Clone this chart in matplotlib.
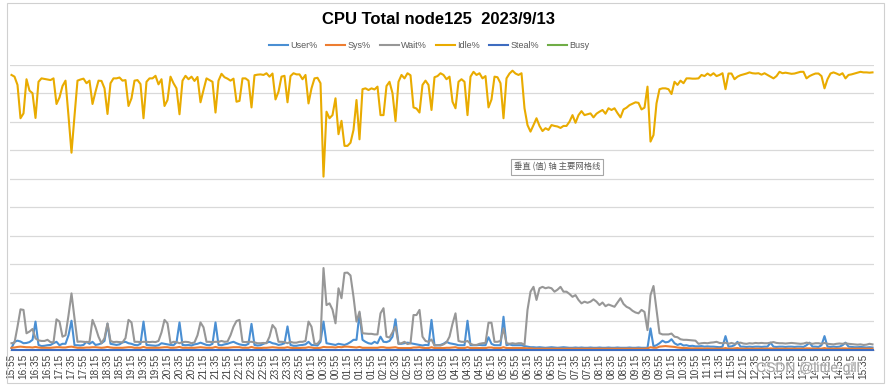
import matplotlib
matplotlib.use('Agg')

import matplotlib.pyplot as plt
from matplotlib.patches import Rectangle
import matplotlib.patheffects as pe
import pandas as pd

# 5-minute nmon samples, 2023/9/13 15:55 -> next day 15:50 (one row of 12 = one hour)
times = pd.date_range('2023-09-12 15:55', periods=288, freq='5min').strftime('%H:%M').tolist()

idle = [
    96.4, 95.8, 92.9, 81.2, 82.9, 94.9, 90.9, 90.0, 81.3, 94.0, 95.2, 95.0,
    94.8, 94.6, 95.2, 86.2, 88.5, 92.5, 94.4, 82.0, 69.1, 82.0, 94.4, 94.8,
    95.1, 93.5, 94.4, 86.2, 90.5, 94.4, 94.3, 91.7, 82.7, 93.5, 95.2, 95.2,
    95.5, 94.4, 94.6, 85.5, 88.2, 94.4, 94.6, 93.2, 81.2, 94.0, 95.2, 95.2,
    96.1, 93.1, 94.9, 85.5, 87.6, 95.8, 93.5, 91.7, 82.6, 94.4, 96.1, 94.9,
    95.8, 94.3, 95.7, 86.8, 91.1, 95.2, 94.6, 94.0, 83.2, 94.4, 96.8, 95.6,
    95.1, 94.4, 95.1, 87.0, 87.3, 95.2, 95.2, 94.4, 85.0, 96.3, 96.5, 96.6,
    96.4, 97.0, 95.8, 96.9, 87.8, 90.5, 95.8, 96.1, 86.8, 96.0, 97.0, 96.6,
    96.6, 94.9, 96.4, 86.4, 91.7, 95.2, 95.4, 93.5, 60.7, 83.5, 81.2, 82.3,
    88.2, 75.6, 80.3, 71.5, 71.5, 72.6, 77.1, 87.6, 73.8, 91.4, 91.7, 91.1,
    91.7, 91.3, 92.3, 82.3, 82.3, 92.5, 94.0, 90.0, 80.2, 94.0, 96.4, 95.2,
    97.0, 96.3, 85.0, 84.6, 83.2, 92.9, 94.4, 92.9, 84.1, 95.6, 96.0, 97.0,
    96.4, 94.9, 95.8, 87.0, 84.7, 94.0, 94.9, 94.0, 82.3, 95.8, 97.5, 96.4,
    97.0, 95.2, 96.0, 85.0, 87.8, 95.8, 95.6, 93.5, 81.2, 95.2, 96.9, 97.9,
    96.9, 96.4, 97.0, 84.7, 78.8, 76.5, 78.8, 81.2, 78.5, 76.7, 77.7, 77.1,
    78.8, 78.5, 78.3, 77.8, 78.5, 78.5, 80.0, 82.3, 79.6, 82.3, 83.7, 82.3,
    82.6, 82.9, 81.5, 82.8, 83.5, 84.1, 82.8, 84.7, 84.1, 84.7, 83.0, 81.5,
    84.3, 84.9, 85.8, 86.3, 86.8, 86.6, 84.3, 84.9, 92.3, 73.0, 75.3, 86.4,
    91.4, 91.7, 91.7, 91.4, 89.7, 94.0, 92.9, 94.4, 93.5, 95.2, 95.2, 95.1,
    95.1, 95.2, 96.4, 96.0, 96.9, 96.2, 97.0, 96.0, 96.4, 97.0, 91.4, 96.9,
    96.9, 94.9, 95.8, 96.3, 96.6, 96.9, 97.3, 97.0, 96.9, 97.0, 96.5, 97.0,
    96.4, 95.8, 95.2, 96.0, 97.5, 97.0, 97.2, 97.0, 96.8, 96.9, 97.2, 97.5,
    97.5, 95.2, 96.0, 96.5, 96.9, 96.9, 96.0, 91.7, 94.9, 96.9, 97.3, 96.9,
    96.4, 97.0, 95.2, 96.4, 96.6, 96.9, 97.2, 97.5, 97.3, 97.3, 97.2, 97.3,
]

wait = [
    2.2, 2.4, 8.0, 14.1, 13.9, 5.7, 6.3, 7.2, 3.9, 3.2, 3.0, 3.0,
    3.4, 2.6, 2.5, 10.6, 9.8, 4.5, 5.0, 12.0, 19.7, 11.0, 2.7, 2.8,
    2.7, 2.6, 2.7, 10.4, 7.8, 4.5, 2.2, 4.0, 9.2, 3.0, 2.6, 2.7,
    2.6, 2.5, 4.0, 10.4, 9.5, 2.7, 2.7, 2.6, 2.7, 2.7, 2.6, 2.7,
    2.6, 3.0, 6.0, 10.4, 9.2, 2.2, 2.7, 2.6, 2.2, 2.6, 2.7, 2.6,
    2.2, 2.5, 5.0, 9.5, 7.8, 2.7, 2.7, 2.6, 2.7, 2.7, 3.0, 2.7,
    2.8, 5.0, 8.0, 10.0, 10.4, 2.7, 2.6, 2.7, 2.7, 2.5, 2.2, 2.2,
    2.3, 2.2, 4.5, 8.6, 7.3, 2.7, 2.7, 2.6, 2.2, 2.7, 2.4, 2.4,
    2.7, 2.7, 3.0, 9.8, 8.0, 2.0, 2.0, 3.4, 28.6, 15.6, 16.2, 14.0,
    9.2, 21.5, 18.0, 26.9, 27.0, 26.0, 18.5, 9.8, 13.3, 5.7, 5.6, 5.5,
    5.5, 5.3, 5.3, 12.7, 14.5, 4.5, 4.2, 6.0, 8.0, 2.0, 2.2, 2.7,
    1.9, 2.2, 12.1, 12.1, 13.9, 4.5, 3.0, 2.7, 3.5, 1.4, 1.5, 1.4,
    1.8, 2.5, 4.5, 9.0, 12.7, 3.0, 2.7, 2.7, 3.0, 2.0, 1.6, 1.6,
    2.0, 2.2, 2.3, 9.4, 9.4, 2.7, 2.7, 3.0, 7.4, 2.2, 2.0, 2.2,
    2.0, 2.2, 2.2, 1.6, 13.9, 20.3, 22.0, 17.4, 21.5, 22.0, 21.5, 21.8,
    21.5, 20.3, 21.0, 22.0, 20.3, 20.3, 19.5, 18.5, 19.1, 17.4, 16.2, 16.8,
    16.4, 16.8, 17.6, 16.8, 15.6, 16.5, 15.2, 15.8, 15.4, 15.0, 16.5, 18.0,
    16.0, 15.0, 14.5, 13.6, 13.0, 12.7, 13.9, 13.2, 6.8, 19.1, 22.3, 13.9,
    5.7, 5.3, 5.3, 5.3, 5.6, 4.5, 4.3, 3.6, 3.4, 3.4, 3.3, 3.2,
    3.1, 2.0, 2.2, 2.3, 2.2, 2.4, 2.5, 2.7, 2.3, 2.2, 2.4, 2.0,
    2.3, 2.0, 2.2, 2.4, 2.1, 2.0, 2.2, 2.1, 2.3, 2.2, 2.3, 2.2,
    2.2, 2.4, 2.6, 2.3, 2.2, 2.2, 2.1, 2.2, 2.3, 2.2, 2.1, 2.0,
    2.1, 2.4, 2.2, 2.0, 2.2, 2.2, 2.0, 2.3, 2.0, 1.9, 1.8, 2.0,
    2.1, 2.0, 2.2, 2.0, 1.9, 1.8, 1.7, 1.8, 1.6, 1.7, 2.0, 1.8,
]

user = [
    0.5, 2.7, 3.1, 2.8, 2.2, 2.3, 2.6, 3.4, 9.8, 1.6, 1.2, 1.3,
    1.5, 1.6, 2.2, 2.7, 1.5, 2.0, 2.0, 5.0, 10.1, 1.5, 1.5, 1.4,
    1.6, 2.7, 2.0, 2.7, 1.6, 1.8, 2.2, 3.0, 9.0, 2.0, 1.8, 1.6,
    1.8, 2.5, 2.7, 2.2, 2.0, 1.6, 1.5, 2.0, 9.8, 1.6, 1.5, 1.4,
    1.3, 1.5, 2.2, 2.0, 1.8, 1.6, 1.5, 2.5, 9.5, 1.6, 1.5, 1.6,
    1.4, 1.8, 2.0, 2.4, 2.0, 1.6, 1.5, 2.0, 9.5, 1.6, 1.5, 1.8,
    2.0, 2.4, 2.7, 2.2, 1.8, 1.6, 1.5, 2.0, 9.0, 1.6, 1.4, 1.5,
    2.0, 2.4, 2.7, 2.2, 2.0, 1.6, 1.8, 2.2, 8.1, 1.6, 1.3, 1.3,
    1.5, 1.6, 1.8, 2.7, 1.6, 1.5, 1.4, 2.7, 9.8, 2.2, 2.0, 1.8,
    1.6, 2.0, 1.8, 1.6, 2.0, 2.6, 3.4, 3.4, 12.7, 3.4, 2.7, 2.2,
    2.0, 2.7, 2.2, 4.5, 2.7, 2.6, 3.0, 4.5, 10.6, 2.0, 2.0, 2.2,
    2.4, 2.2, 2.0, 1.8, 1.6, 1.4, 1.6, 1.5, 10.4, 1.5, 1.5, 1.6,
    2.0, 2.7, 2.2, 2.0, 1.8, 1.5, 1.5, 1.5, 10.1, 1.5, 1.5, 1.5,
    1.6, 1.5, 1.5, 4.3, 2.0, 1.5, 1.5, 1.5, 11.5, 1.5, 1.8, 1.5,
    1.5, 1.5, 1.5, 1.2, 1.0, 0.8, 0.8, 0.7, 0.8, 0.7, 0.6, 0.7,
    0.8, 0.7, 0.6, 0.7, 0.8, 0.7, 0.6, 0.6, 0.7, 0.6, 0.7, 0.6,
    0.6, 0.7, 0.6, 0.6, 0.7, 0.6, 0.6, 0.7, 0.6, 0.6, 0.7, 0.6,
    0.6, 0.6, 0.7, 0.6, 0.6, 0.7, 0.6, 0.6, 0.6, 7.4, 1.1, 1.5,
    2.2, 3.1, 2.5, 2.7, 3.6, 2.2, 1.6, 2.0, 1.4, 1.5, 1.2, 1.3,
    1.1, 1.1, 1.2, 1.0, 1.1, 1.0, 1.0, 0.9, 0.8, 1.0, 4.7, 1.0,
    1.1, 1.5, 2.7, 1.0, 1.0, 0.9, 1.0, 0.9, 1.0, 1.0, 0.9, 1.0,
    1.0, 2.4, 1.0, 0.9, 1.0, 1.0, 0.9, 1.0, 1.0, 0.9, 1.0, 1.0,
    0.9, 1.5, 2.4, 1.0, 1.0, 0.9, 1.5, 4.7, 1.0, 0.9, 1.0, 0.9,
    1.0, 1.5, 2.4, 1.0, 0.9, 0.8, 0.8, 0.9, 0.8, 0.7, 0.8, 0.7,
]

sys_ = [
    0.6, 0.7, 0.9, 1.0, 0.9, 0.8, 0.8, 0.7, 0.9, 0.7, 0.6, 0.6,
    0.6, 0.6, 0.7, 0.8, 0.8, 0.7, 0.7, 0.9, 1.0, 0.8, 0.6, 0.6,
    0.6, 0.7, 0.7, 0.8, 0.8, 0.7, 0.6, 0.7, 0.9, 0.7, 0.6, 0.6,
    0.6, 0.6, 0.7, 0.8, 0.8, 0.6, 0.6, 0.6, 0.9, 0.6, 0.6, 0.6,
    0.6, 0.6, 0.7, 0.8, 0.8, 0.6, 0.6, 0.7, 0.9, 0.6, 0.6, 0.6,
    0.6, 0.6, 0.7, 0.8, 0.7, 0.6, 0.6, 0.6, 0.9, 0.6, 0.6, 0.6,
    0.6, 0.7, 0.8, 0.8, 0.8, 0.6, 0.6, 0.6, 0.9, 0.6, 0.5, 0.5,
    0.6, 0.6, 0.7, 0.8, 0.7, 0.6, 0.6, 0.6, 0.8, 0.6, 0.5, 0.5,
    0.5, 0.6, 0.6, 0.8, 0.7, 0.5, 0.5, 0.6, 0.9, 0.8, 0.8, 0.8,
    0.7, 0.9, 0.8, 1.0, 1.0, 0.9, 0.8, 0.7, 0.9, 0.6, 0.6, 0.6,
    0.6, 0.6, 0.6, 0.8, 0.8, 0.6, 0.6, 0.7, 0.8, 0.5, 0.5, 0.5,
    0.5, 0.5, 0.7, 0.7, 0.8, 0.6, 0.5, 0.5, 0.8, 0.5, 0.5, 0.5,
    0.5, 0.6, 0.6, 0.7, 0.8, 0.5, 0.5, 0.5, 0.8, 0.5, 0.5, 0.5,
    0.5, 0.5, 0.5, 0.7, 0.7, 0.5, 0.5, 0.5, 0.8, 0.5, 0.5, 0.5,
    0.5, 0.5, 0.5, 0.5, 0.4, 0.4, 0.3, 0.3, 0.3, 0.3, 0.3, 0.3,
    0.3, 0.3, 0.3, 0.3, 0.3, 0.3, 0.3, 0.3, 0.3, 0.3, 0.3, 0.3,
    0.3, 0.3, 0.3, 0.3, 0.3, 0.3, 0.3, 0.3, 0.3, 0.3, 0.3, 0.3,
    0.3, 0.3, 0.3, 0.3, 0.3, 0.3, 0.3, 0.3, 0.4, 0.8, 0.6, 0.6,
    1.0, 1.1, 1.2, 1.1, 1.0, 0.9, 0.7, 0.6, 0.5, 0.5, 0.4, 0.4,
    0.4, 0.4, 0.4, 0.3, 0.4, 0.3, 0.3, 0.3, 0.3, 0.3, 0.5, 0.3,
    0.3, 0.4, 0.5, 0.3, 0.3, 0.3, 0.3, 0.3, 0.3, 0.3, 0.3, 0.3,
    0.3, 0.4, 0.3, 0.3, 0.3, 0.3, 0.3, 0.3, 0.3, 0.3, 0.3, 0.3,
    0.3, 0.4, 0.4, 0.3, 0.3, 0.3, 0.3, 0.5, 0.3, 0.3, 0.3, 0.3,
    0.3, 0.4, 0.4, 0.3, 0.3, 0.3, 0.3, 0.3, 0.3, 0.3, 0.3, 0.3,
]

steal = [0.0] * 288
busy = []  # column is empty in the sheet, only its legend entry shows

series = [
    ('User%', user, '#4A8FD3'),
    ('Sys%', sys_, '#ED7D31'),
    ('Wait%', wait, '#979797'),
    ('Idle%', idle, '#E9AB00'),
    ('Steal%', steal, '#3E6CC0'),
    ('Busy', busy, '#70AD47'),
]

W, H = 890, 386
fig = plt.figure(figsize=(W / 100, H / 100), dpi=100)
fig.patch.set_facecolor('white')

# plot area in pixel terms: x 10..874, y 64.7 (100%) .. 349.5 (0%)
ax = fig.add_axes([10 / W, 1 - 349.5 / H, 864 / W, (349.5 - 64.7) / H])

x = list(range(len(times)))
for i, (name, vals, col) in enumerate(series):
    ax.plot(x[:len(vals)], vals, color=col, lw=1.5, label=name,
            zorder=3 + i, clip_on=(name != 'Steal%'), solid_joinstyle='round')

ax.set_xlim(-0.5, len(times) - 0.5)
ax.set_ylim(0, 100)
ax.set_yticks(range(0, 101, 10))
ax.set_yticklabels([])
ax.tick_params(axis='y', length=0)
ax.grid(axis='y', color='#D9D9D9', lw=0.9)
ax.set_xticks(x[::4])
ax.set_xticklabels(times[::4], rotation=90, fontsize=7.2, color='#404040',
                   family='Liberation Sans')
ax.tick_params(axis='x', length=0, pad=3)
for s in ['left', 'right', 'top']:
    ax.spines[s].set_visible(False)
ax.spines['bottom'].set_color('#D9D9D9')

fig.text(438 / W, 1 - 20 / H, 'CPU Total node125  2023/9/13', ha='center', va='center',
         fontsize=12, fontweight='bold', family='Liberation Sans', color='black')

fig.legend(loc='center', bbox_to_anchor=(429 / W, 1 - 46 / H), ncol=6, frameon=False,
           handlelength=2.1, handletextpad=0.25, columnspacing=1.0,
           labelcolor='#595959', prop={'family': 'Liberation Sans', 'size': 6.5})

# hover tooltip captured in the screenshot
fig.text(557 / W, 1 - 167 / H, '垂直 (值) 轴 主要网格线', ha='center', va='center',
         fontsize=6, color='#595959', family=['Noto Sans CJK SC', 'DejaVu Sans'],
         bbox=dict(boxstyle='square,pad=0.35', fc='white', ec='#A6A6A6', lw=0.8))

# chart frame
fig.patches.append(Rectangle((7 / W, 3 / H), 877 / W, 380 / H, transform=fig.transFigure,
                             fill=False, ec='#D0D0D0', lw=0.8))

# site watermark (sits over the last tick labels, as in the screenshot)
fig.text(808 / W, 1 - 368 / H, 'CSDN @little-gill', ha='center', va='center',
         fontsize=10, color='#8C8C8C', alpha=0.75, family='Liberation Sans',
         path_effects=[pe.withStroke(linewidth=2, foreground='white', alpha=0.6)])

fig.savefig('out.png', dpi=100)
plt.close(fig)
